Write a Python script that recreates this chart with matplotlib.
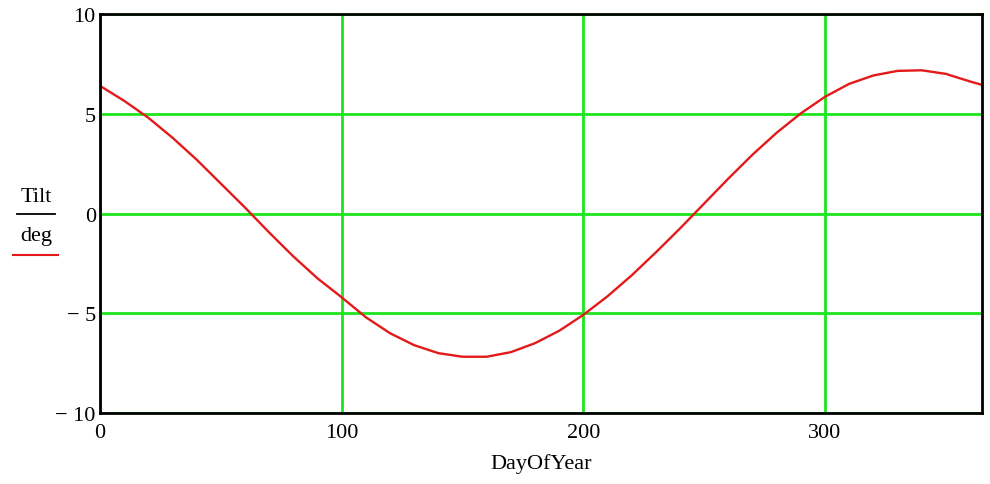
import matplotlib.pyplot as plt
from matplotlib.lines import Line2D

# values
day_of_year = [0, 10, 20, 30, 40, 50, 60, 70, 80, 90, 100, 110, 120, 130, 140, 150,
               160, 170, 180, 190, 200, 210, 220, 230, 240, 250, 260, 270, 280, 290,
               300, 310, 320, 330, 340, 350, 360, 365]
tilt_deg = [6.4, 5.65, 4.8, 3.8, 2.7, 1.5, 0.3, -0.95, -2.15, -3.25, -4.2, -5.2, -6.0,
            -6.6, -7.0, -7.18, -7.18, -6.95, -6.5, -5.88, -5.08, -4.15, -3.1, -1.95,
            -0.75, 0.5, 1.75, 2.95, 4.05, 5.02, 5.85, 6.5, 6.92, 7.15, 7.18, 7.0, 6.62, 6.45]

x_ticks = [0, 100, 200, 300]
y_ticks = [-10, -5, 0, 5, 10]
y_tick_labels = ['\u2212 10', '\u2212 5', '0', '5', '10']

plt.rcParams['font.family'] = ['Liberation Serif', 'DejaVu Serif']

fig = plt.figure(figsize=(9.9, 4.85), dpi=100)
ax = fig.add_axes([0.101, 0.1464, 0.891, 0.8226])

ax.plot(day_of_year, tilt_deg, color='#e41a1a', linewidth=1.7, zorder=3)

ax.set_xlim(0, 365)
ax.set_ylim(-10, 10)
ax.set_xticks(x_ticks)
ax.set_yticks(y_ticks)
ax.set_yticklabels(y_tick_labels)
ax.tick_params(length=0, labelsize=16)
ax.tick_params(axis='x', pad=7)
ax.tick_params(axis='y', pad=3)
ax.grid(True, color='#1ee61e', linewidth=2, zorder=1)
for spine in ax.spines.values():
    spine.set_linewidth(2)
    spine.set_zorder(4)

ax.set_xlabel('DayOfYear', fontsize=16, labelpad=8)

# Mathcad-style stacked y label: Tilt / deg with red trace key
fig.text(36 / 990, 1 - 197 / 485, 'Tilt', fontsize=16, ha='center', va='center')
fig.text(36 / 990, 1 - 236 / 485, 'deg', fontsize=16, ha='center', va='center')
fig.add_artist(Line2D([17 / 990, 55 / 990], [1 - 215 / 485, 1 - 215 / 485],
                      color='black', linewidth=1.3))
fig.add_artist(Line2D([13 / 990, 58 / 990], [1 - 256 / 485, 1 - 256 / 485],
                      color='#e41a1a', linewidth=1.5))

fig.savefig('out.png', dpi=100)
